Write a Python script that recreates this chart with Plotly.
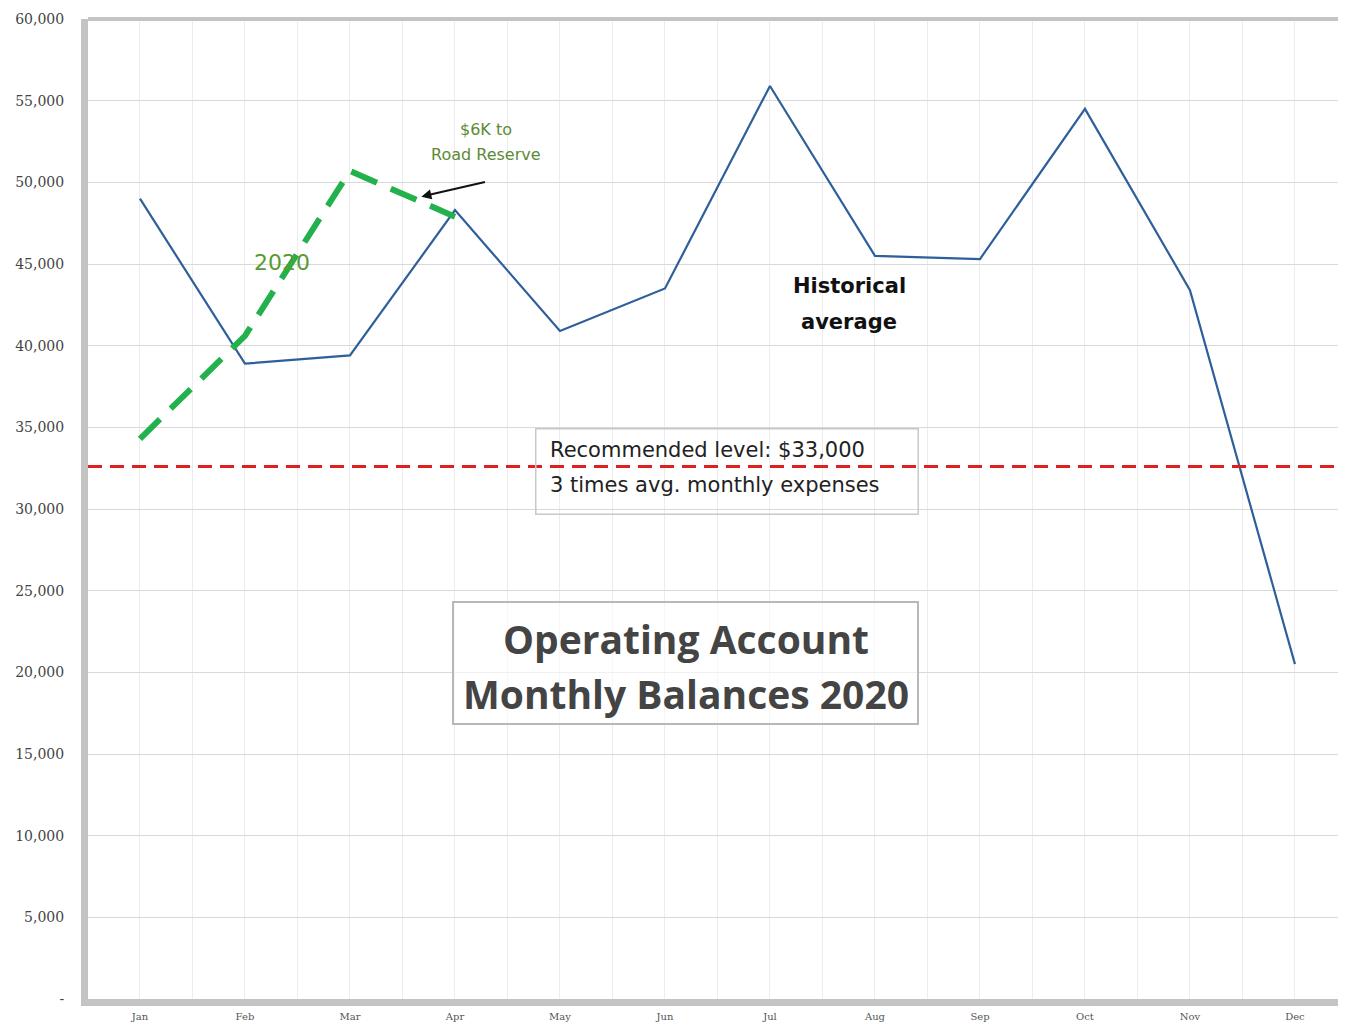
import plotly.graph_objects as go

months = ["Jan", "Feb", "Mar", "Apr", "May", "Jun", "Jul", "Aug", "Sep", "Oct", "Nov", "Dec"]
historical = [49000, 38900, 39400, 48300, 40900, 43500, 55900, 45500, 45300, 54500, 43400, 20500]
months_2020 = ["Jan", "Feb", "Mar", "Apr"]
balances_2020 = [34300, 40600, 50700, 47900]
recommended_level = 32600
y_ticks = [0, 5000, 10000, 15000, 20000, 25000, 30000, 35000, 40000, 45000, 50000, 55000, 60000]
y_tick_text = ["-"] + [f"{v:,}" for v in y_ticks[1:]]

xi = list(range(len(months)))
xi_2020 = [months.index(m) for m in months_2020]

fig = go.Figure()
fig.add_trace(go.Scatter(x=xi, y=historical, mode="lines",
                         line=dict(color="#2f5f9a", width=2.2), showlegend=False))
fig.add_trace(go.Scatter(x=xi_2020, y=balances_2020, mode="lines",
                         line=dict(color="#22b14c", width=6, dash="28px,15px"), showlegend=False))
fig.add_shape(type="line", xref="paper", x0=0, x1=1, y0=recommended_level, y1=recommended_level,
              line=dict(color="#e0201e", width=3, dash="14px,8px"), layer="above")
# top frame line
fig.add_shape(type="line", xref="paper", yref="paper", x0=0, x1=1, y0=1, y1=1,
              line=dict(color="#c4c4c4", width=4), layer="above")

# annotations
fig.add_annotation(x=3.3, y=53218, text="$6K to", showarrow=False,
                   font=dict(family="DejaVu Sans", size=16, color="#5d8a36"))
fig.add_annotation(x=3.3, y=51690, text="Road Reserve", showarrow=False,
                   font=dict(family="DejaVu Sans", size=16, color="#5d8a36"))
fig.add_annotation(x=2.68, y=49124, ax=3.3, ay=50040, axref="x", ayref="y",
                   text="", showarrow=True, arrowhead=2, arrowsize=1, arrowwidth=2, arrowcolor="#111")
fig.add_annotation(x=1.357, y=45092, text="2020", showarrow=False,
                   font=dict(family="DejaVu Sans", size=22, color="#5a9a32"))
fig.add_annotation(x=6.757, y=43625, text="<b>Historical</b>", showarrow=False,
                   font=dict(family="DejaVu Sans", size=21, color="#111"))
fig.add_annotation(x=6.757, y=41426, text="<b>average</b>", showarrow=False,
                   font=dict(family="DejaVu Sans", size=21, color="#111"))

# recommended level box
fig.add_annotation(x=5.59, y=32322, text="", showarrow=False, width=379, height=82,
                   bordercolor="#c8c8c8", borderwidth=1.5, bgcolor="rgba(0,0,0,0)")
fig.add_annotation(x=3.89, y=33605, xanchor="left", text="Recommended level: $33,000",
                   showarrow=False, font=dict(family="DejaVu Sans", size=21, color="#222"))
fig.add_annotation(x=3.89, y=31466, xanchor="left", text="3 times avg. monthly expenses",
                   showarrow=False, font=dict(family="DejaVu Sans", size=21, color="#222"))

# title box
fig.add_annotation(x=5.2, y=20590, text="", showarrow=False, width=461, height=118,
                   bordercolor="#b8b8b8", borderwidth=2, bgcolor="rgba(255,255,255,0.6)")
fig.add_annotation(x=5.2, y=22057, text="<b>Operating Account</b>", showarrow=False,
                   font=dict(family="Open Sans", size=39, color="#444"))
fig.add_annotation(x=5.2, y=18697, text="<b>Monthly Balances 2020</b>", showarrow=False,
                   font=dict(family="Open Sans", size=39, color="#444"))

fig.update_layout(
    width=1330, height=1014,
    margin=dict(l=80, r=0, t=11, b=21),
    paper_bgcolor="white", plot_bgcolor="white",
    font=dict(family="DejaVu Serif", color="#444"),
    xaxis=dict(range=[-0.495, 11.41], tickmode="array", tickvals=xi, ticktext=months,
               showgrid=True, gridcolor="#ececec", gridwidth=1,
               minor=dict(tick0=-0.5, dtick=1, showgrid=True, gridcolor="#ececec"),
               tickfont=dict(size=10, color="#555"), ticks="", zeroline=False,
               showline=True, linecolor="#c4c4c4", linewidth=7, ticklabelstandoff=2),
    yaxis=dict(range=[0, 60000], tickmode="array", tickvals=y_ticks, ticktext=y_tick_text,
               showgrid=True, gridcolor="#d9d9d9", gridwidth=1, ticklabelstandoff=14,
               tickfont=dict(size=14, color="#444"), ticks="", zeroline=False,
               showline=True, linecolor="#c4c4c4", linewidth=7),
)

fig.write_html("out.html")
